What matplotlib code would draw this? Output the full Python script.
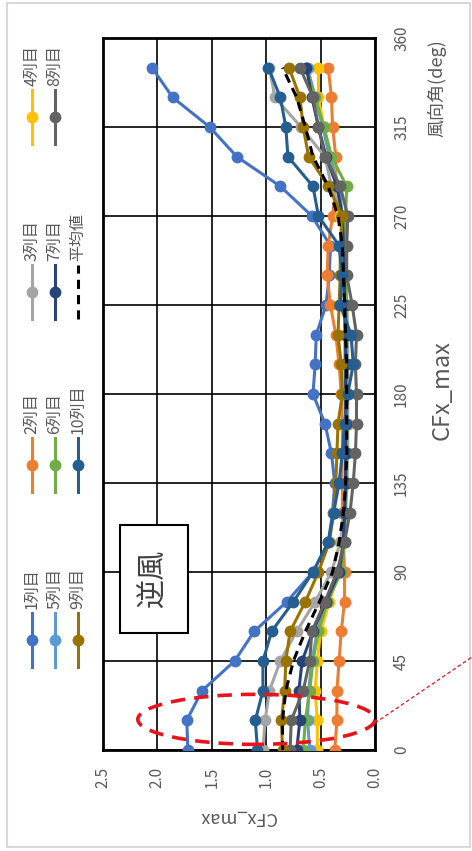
import matplotlib
matplotlib.use('Agg')
import matplotlib.pyplot as plt
from matplotlib.lines import Line2D
from matplotlib.patches import Rectangle, Ellipse

plt.rcParams['font.family'] = ['Noto Sans CJK JP', 'DejaVu Sans']

# ---------------- data ----------------
angles = list(range(0, 360, 15))  # 風向角 (deg)

col1 = [1.72, 1.73, 1.59, 1.29, 1.11, 0.81, 0.57, 0.43, 0.39, 0.37, 0.40, 0.46,
        0.57, 0.55, 0.54, 0.45, 0.42, 0.41, 0.58, 0.87, 1.27, 1.52, 1.86, 2.05]
col2 = [0.37, 0.35, 0.35, 0.33, 0.31, 0.28, 0.28, 0.29, 0.30, 0.30, 0.30, 0.30,
        0.31, 0.33, 0.36, 0.41, 0.44, 0.43, 0.39, 0.36, 0.36, 0.39, 0.40, 0.43]
col3 = [1.03, 1.01, 0.97, 0.87, 0.72, 0.55, 0.40, 0.32, 0.28, 0.26, 0.25, 0.25,
        0.25, 0.25, 0.25, 0.26, 0.27, 0.27, 0.30, 0.40, 0.46, 0.68, 0.92, 0.97]
col4 = [0.53, 0.53, 0.55, 0.53, 0.50, 0.42, 0.33, 0.30, 0.28, 0.28, 0.28, 0.28,
        0.28, 0.28, 0.28, 0.28, 0.29, 0.30, 0.32, 0.34, 0.40, 0.47, 0.52, 0.52]
col5 = [0.60, 0.62, 0.61, 0.58, 0.53, 0.44, 0.33, 0.29, 0.28, 0.27, 0.27, 0.27,
        0.27, 0.27, 0.27, 0.28, 0.28, 0.29, 0.30, 0.33, 0.42, 0.48, 0.55, 0.62]
col6 = [0.66, 0.64, 0.60, 0.57, 0.52, 0.44, 0.31, 0.28, 0.27, 0.26, 0.26, 0.26,
        0.26, 0.26, 0.26, 0.26, 0.27, 0.27, 0.27, 0.26, 0.40, 0.47, 0.55, 0.63]
col7 = [0.72, 0.69, 0.70, 0.67, 0.57, 0.45, 0.33, 0.29, 0.28, 0.27, 0.27, 0.27,
        0.27, 0.27, 0.27, 0.28, 0.28, 0.29, 0.30, 0.35, 0.45, 0.52, 0.58, 0.63]
col8 = [0.78, 0.77, 0.66, 0.60, 0.58, 0.46, 0.35, 0.28, 0.23, 0.20, 0.18, 0.17,
        0.17, 0.18, 0.17, 0.21, 0.26, 0.26, 0.25, 0.32, 0.46, 0.52, 0.57, 0.69]
col9 = [0.85, 0.86, 0.83, 0.82, 0.78, 0.64, 0.52, 0.42, 0.38, 0.36, 0.35, 0.34,
        0.30, 0.31, 0.34, 0.33, 0.32, 0.32, 0.30, 0.43, 0.61, 0.66, 0.69, 0.79]
col10 = [1.08, 1.10, 1.03, 1.03, 0.95, 0.75, 0.57, 0.43, 0.38, 0.33, 0.30, 0.28,
         0.25, 0.20, 0.22, 0.32, 0.30, 0.33, 0.52, 0.57, 0.80, 0.82, 0.87, 0.98]
average = [0.85, 0.85, 0.82, 0.75, 0.64, 0.51, 0.39, 0.33, 0.29, 0.27, 0.26, 0.26,
           0.26, 0.26, 0.27, 0.28, 0.29, 0.30, 0.34, 0.43, 0.57, 0.64, 0.72, 0.85]

names = ['1列目', '2列目', '3列目', '4列目', '5列目', '6列目', '7列目', '8列目',
         '9列目', '10列目']
series = [col1, col2, col3, col4, col5, col6, col7, col8, col9, col10]
colors = ['#4472C4', '#ED7D31', '#A5A5A5', '#FFC000', '#5B9BD5', '#70AD47',
          '#264478', '#636363', '#997300', '#255E91']
avg_name = '平均値'

cfx_ticks = [0.0, 0.5, 1.0, 1.5, 2.0, 2.5]
angle_ticks = [0, 45, 90, 135, 180, 225, 270, 315, 360]

TXT = '#595959'
W, H = 472, 851


def fx(px):
    return px / W


def fy(py):
    return 1 - py / H


fig = plt.figure(figsize=(W / 100, H / 100), dpi=100)

# outer chart-area frame
fig.patches.append(Rectangle((fx(7), fy(847)), fx(470) - fx(7), fy(3) - fy(847),
                             transform=fig.transFigure, fill=False,
                             edgecolor='#D9D9D9', lw=1.5))

ax = fig.add_axes([fx(103), fy(750), fx(375) - fx(103), fy(38) - fy(750)])

for name, vals, c in zip(names, series, colors):
    ax.plot(vals, angles, color=c, lw=2.2, marker='o', ms=7.5,
            markeredgecolor=c, markerfacecolor=c, label=name, zorder=3)
ax.plot(average, angles, color='black', lw=2.2, ls=(0, (3, 2)), zorder=4,
        label=avg_name)

ax.set_xlim(2.5, 0)
ax.set_ylim(0, 360)
ax.set_xticks(cfx_ticks)
ax.set_xticklabels([f'{v:.1f}' for v in cfx_ticks])
ax.set_yticks(angle_ticks)
ax.yaxis.tick_right()
ax.grid(True, color='black', lw=1.2)
ax.set_axisbelow(True)
for sp in ax.spines.values():
    sp.set_color('black')
    sp.set_linewidth(2)
ax.tick_params(axis='both', length=0, labelsize=11, labelcolor=TXT)
ax.tick_params(axis='x', pad=12, labelrotation=90)
ax.tick_params(axis='y', pad=13, labelrotation=90)
for lab in ax.get_yticklabels():
    lab.set_va('center')

# y-axis title (upside-down) and x-axis title, chart title
fig.text(fx(238), fy(817), 'CFx_max', rotation=180, ha='center', va='center',
         fontsize=13, color=TXT)
fig.text(fx(437), fy(88), '風向角(deg)', rotation=90, ha='center', va='center',
         fontsize=13, color=TXT)
fig.text(fx(442), fy(390), 'CFx_max', rotation=90, ha='center', va='center',
         fontsize=17, color=TXT)

# 逆風 box
ax.add_patch(Rectangle((0.0625, 0.164), 0.25, 0.152, transform=ax.transAxes,
                       facecolor='white', edgecolor='black', lw=1.5, zorder=5))
ax.text(0.1875, 0.24, '逆風', transform=ax.transAxes, rotation=90,
        ha='center', va='center', fontsize=21, color='#404040', zorder=6)

# red dashed ellipse
ax.add_patch(Ellipse((1.09, 15.5), 2.18, 25.3, fill=False, edgecolor='#E8141B',
                     lw=2.6, ls=(0, (4, 2.5)), zorder=7, clip_on=False))
fig.add_artist(Line2D([fx(375), fx(472)], [fy(723), fy(657)],
                      transform=fig.transFigure, color='#E8141B', lw=0.9,
                      ls=(0, (3, 2))))

# legend (rotated, drawn manually)
row_x = [32, 55, 78]
col_y = [640, 465, 292, 117]
entries = list(zip(names, colors)) + [(avg_name, None)]
for i, (name, c) in enumerate(entries):
    r, k = divmod(i, 4)
    x = fx(row_x[r])
    yc = col_y[k]
    if c is None:
        fig.add_artist(Line2D([x, x], [fy(yc + 27), fy(yc - 27)],
                              transform=fig.transFigure, color='black', lw=2.2,
                              ls=(0, (3, 2))))
    else:
        fig.add_artist(Line2D([x, x], [fy(yc + 27), fy(yc - 27)],
                              transform=fig.transFigure, color=c, lw=2.2))
        fig.add_artist(Line2D([x], [fy(yc)], transform=fig.transFigure,
                              marker='o', ms=7.5, color=c))
    fig.text(x, fy(yc - 31), name, rotation=90, ha='center', va='bottom',
             fontsize=11.5, color=TXT)

fig.savefig('out.png', dpi=100)
